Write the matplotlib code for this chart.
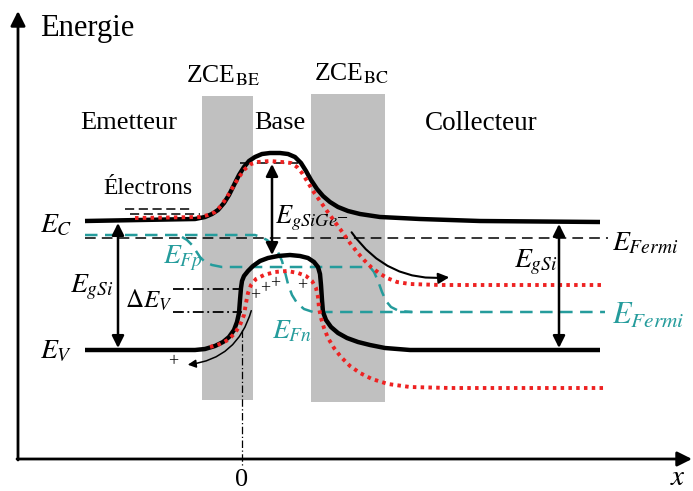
import matplotlib
matplotlib.use('Agg')
import matplotlib.pyplot as plt
from matplotlib.patches import Rectangle, FancyArrowPatch

plt.rcParams['font.family'] = ['Liberation Serif', 'DejaVu Serif']
plt.rcParams['mathtext.fontset'] = 'stix'

TEAL = '#259c9c'
RED = '#ee2222'

# band edges (schematic, picture coordinates: x to the right, energy downwards)
ec_x = [85, 195, 205, 212, 218, 224, 229, 234, 239, 244, 249, 255, 262, 270, 280, 288, 295, 301, 306,
        311, 317, 323, 330, 338, 348, 360, 380, 420, 480, 600]
ec_y = [221, 219, 217, 214, 210, 203, 195, 185, 175, 167, 161, 157, 154, 153, 153, 154, 157, 163, 171,
        180, 189, 196, 202, 207, 211, 214, 217, 219, 221, 222]

ev_x = [85, 195, 205, 215, 223, 229, 234, 237, 239, 240, 241, 242, 244, 248, 253, 260, 268, 278, 290,
        300, 308, 314, 318, 320, 321, 322, 323, 326, 331, 338, 347, 358, 370, 385, 410, 600]
ev_y = [350, 350, 349, 346, 342, 337, 330, 322, 313, 300, 288, 281, 276, 271, 266, 261, 258, 256, 255,
        256, 258, 262, 267, 274, 285, 300, 312, 320, 327, 333, 338, 342, 345, 348, 350, 350]

ec_sige_x = [135, 200, 208, 215, 221, 227, 233, 239, 245, 251, 258, 270, 282, 291, 297, 302, 307, 313,
             320, 327, 335, 343, 350, 357, 364, 371, 379, 387, 397, 410, 440, 605]
ec_sige_y = [218, 217, 215, 212, 206, 197, 187, 177, 169, 164, 162, 161, 162, 163, 167, 173, 181, 191,
             201, 211, 222, 233, 243, 252, 260, 267, 273, 278, 282, 284, 285, 285]

ev_sige_x = [210, 220, 228, 235, 240, 244, 246, 248, 251, 256, 264, 275, 287, 298, 306, 312, 316, 318,
             319, 321, 324, 328, 334, 341, 350, 360, 372, 388, 410, 450, 605]
ev_sige_y = [347, 344, 340, 333, 325, 315, 303, 293, 285, 279, 275, 272, 271, 273, 276, 281, 288, 297,
             308, 318, 328, 338, 348, 357, 366, 373, 379, 384, 387, 388, 388]

efn_x = [85, 255, 261, 267, 273, 278, 282, 285, 288, 292, 297, 304, 313, 605]
efn_y = [235, 235, 237, 240, 245, 252, 261, 272, 284, 295, 303, 309, 312, 312]

efp_x = [182, 187, 192, 196, 200, 205, 212, 222, 370, 374, 378, 382, 386, 391, 399, 412]
efp_y = [237, 240, 245, 251, 257, 262, 265, 267, 267, 272, 281, 292, 301, 307, 311, 312]

efermi_y = 238
zce_be = (202, 253)
zce_bc = (311, 385)

fig = plt.figure(figsize=(6.93, 4.91), dpi=100)
ax = fig.add_axes([0, 0, 1, 1])
ax.set_xlim(0, 693)
ax.set_ylim(491, 0)
ax.axis('off')

# space charge zones
ax.add_patch(Rectangle((zce_be[0], 96), zce_be[1] - zce_be[0], 304, color='#c0c0c0', lw=0, zorder=0))
ax.add_patch(Rectangle((zce_bc[0], 94), zce_bc[1] - zce_bc[0], 308, color='#c0c0c0', lw=0, zorder=0))

# axes
ax.annotate('', xy=(18, 11), xytext=(18, 460),
            arrowprops=dict(arrowstyle='-|>', lw=2, color='k', mutation_scale=22, shrinkA=0, shrinkB=0))
ax.annotate('', xy=(692, 459), xytext=(17, 459),
            arrowprops=dict(arrowstyle='-|>', lw=2, color='k', mutation_scale=22, shrinkA=0, shrinkB=0))

# fermi level and reference lines
ax.plot([85, 608], [efermi_y, efermi_y], color='k', lw=1.1, ls=(0, (7, 4)), zorder=2)
ax.plot([240, 298], [163, 163], color='k', lw=1.1, ls=(0, (7, 4)), zorder=2)
ax.plot([125, 193], [209, 209], color='k', lw=1.1, ls=(0, (6, 3)), zorder=2)
ax.plot([130, 200], [214, 214], color='k', lw=1.1, ls=(0, (6, 3)), zorder=2)
ax.plot([173, 242], [289, 289], color='k', lw=1.3, ls=(0, (6, 2, 1, 2)), zorder=2)
ax.plot([173, 242], [312, 312], color='k', lw=1.3, ls=(0, (6, 2, 1, 2)), zorder=2)
ax.plot([242, 242], [330, 467], color='k', lw=0.9, ls=(0, (6, 2, 1, 2)), zorder=2)

# quasi fermi levels
ax.plot(efn_x, efn_y, color=TEAL, lw=1.8, ls=(0, (5, 3)), zorder=3)
ax.plot(efp_x, efp_y, color=TEAL, lw=1.8, ls=(0, (5, 3)), zorder=3)

# bands
ax.plot(ec_x, ec_y, color='k', lw=3.2, solid_capstyle='butt', solid_joinstyle='round', zorder=4)
ax.plot(ev_x, ev_y, color='k', lw=3.2, solid_capstyle='butt', solid_joinstyle='round', zorder=4)
ax.plot(ec_sige_x, ec_sige_y, color=RED, lw=2.8, ls=(0, (0.9, 1.1)), dash_capstyle='butt', zorder=5)
ax.plot(ev_sige_x, ev_sige_y, color=RED, lw=2.8, ls=(0, (0.9, 1.1)), dash_capstyle='butt', zorder=5)

# gap arrows
for xa, y0, y1 in [(118, 223, 348), (559, 224, 348), (272, 164, 255)]:
    ax.annotate('', xy=(xa, y0), xytext=(xa, y1),
                arrowprops=dict(arrowstyle='<|-|>', lw=1.8, color='k', mutation_scale=18, shrinkA=0, shrinkB=0),
                zorder=6)

# carrier paths
ax.add_patch(FancyArrowPatch((350, 230), (452, 277), connectionstyle='arc3,rad=0.3',
                             arrowstyle='-|>', mutation_scale=16, lw=1.5, color='k', zorder=6))
ax.add_patch(FancyArrowPatch((252, 308), (185, 365), connectionstyle='arc3,rad=-0.35',
                             arrowstyle='-|>', mutation_scale=12, lw=1.1, color='k', zorder=6))

# labels
ax.text(40, 28, 'Energie', fontsize=22, va='center', ha='left')
ax.text(186, 76, r'ZCE$_{\mathrm{BE}}$', fontsize=18.5, va='center', ha='left')
ax.text(314, 74, r'ZCE$_{\mathrm{BC}}$', fontsize=18.5, va='center', ha='left')
ax.text(80, 123, 'Emetteur', fontsize=19, va='center', ha='left')
ax.text(254, 123, 'Base', fontsize=19, va='center', ha='left')
ax.text(425, 123, 'Collecteur', fontsize=19.5, va='center', ha='left')
ax.text(103, 188, 'Électrons', fontsize=17, va='center', ha='left')

ax.text(40, 226, r'$E_{C}$', fontsize=20, va='center', ha='left')
ax.text(40, 352, r'$E_{V}$', fontsize=20, va='center', ha='left')
ax.text(70, 287, r'$E_{gSi}$', fontsize=20, va='center', ha='left')
ax.text(125, 300, r'$\mathit{\Delta} E_{V}$', fontsize=18, va='center', ha='left')
ax.text(275, 218, r'$E_{gSiGe}$', fontsize=19, va='center', ha='left')
ax.text(514, 262, r'$E_{gSi}$', fontsize=20, va='center', ha='left')
ax.text(612, 244, r'$E_{Fermi}$', fontsize=20, va='center', ha='left')
ax.text(612, 316, r'$E_{Fermi}$', fontsize=22, va='center', ha='left', color=TEAL)
ax.text(163, 258, r'$E_{Fp}$', fontsize=20, va='center', ha='left', color=TEAL)
ax.text(272, 332, r'$E_{Fn}$', fontsize=20, va='center', ha='left', color=TEAL)
ax.text(343, 219, '−', fontsize=14, va='center', ha='center')

for px, py in [(255, 296), (265, 289), (275, 284), (302, 286), (173, 362)]:
    ax.text(px, py, '+', fontsize=13, va='center', ha='center')

ax.text(242, 480, '0', fontsize=19, va='center', ha='center')
ax.text(678, 478, r'$x$', fontsize=21, va='center', ha='center')

plt.savefig('out.png', dpi=100)
